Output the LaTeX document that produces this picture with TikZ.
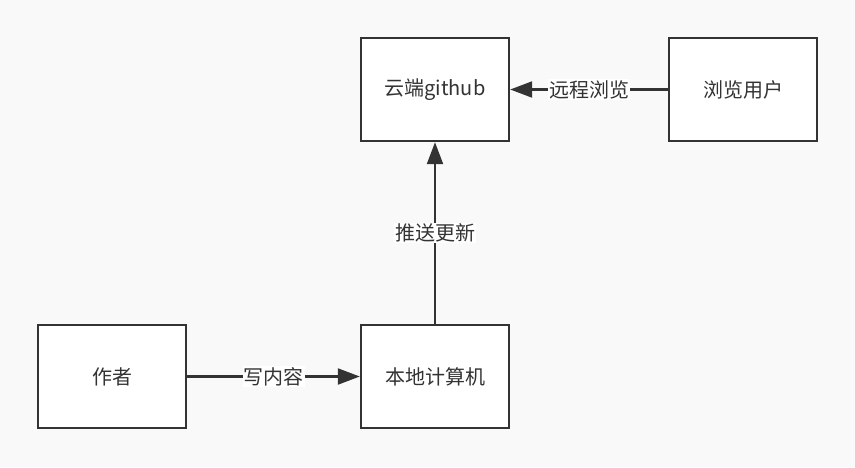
\documentclass[tikz,border=0pt]{standalone}
\usepackage{fontspec}
\setmainfont{Noto Sans CJK SC}
\usetikzlibrary{arrows.meta}
\definecolor{ink}{HTML}{333333}
\definecolor{bg}{HTML}{F9F9F9}
\tikzset{
  box/.style={draw=ink, line width=2.4pt, fill=white, minimum width=148pt, minimum height=103pt, inner sep=0pt, font=\fontsize{20}{24}\selectfont, text=ink},
  conn/.style={draw=ink, line width=2.2pt, -{Triangle[length=22pt,width=16pt]}},
  lbl/.style={fill=white, inner sep=1pt, font=\fontsize{20}{24}\selectfont, text=ink}
}
\begin{document}
\begin{tikzpicture}[x=1pt,y=-1pt]
\fill[bg] (0,0) rectangle (855,467);
\useasboundingbox (0,0) rectangle (855,467);
\node[box] (cloud) at (435,89.5) {云端github};
\node[box] (user) at (743,89.5) {浏览用户};
\node[box] (author) at (112,376.5) {作者};
\node[box] (local) at (435,376.5) {本地计算机};
\draw[conn] (author) -- node[lbl] {写内容} (local);
\draw[conn] (local) -- node[lbl] {推送更新} (cloud);
\draw[conn] (user) -- node[lbl] {远程浏览} (cloud);
\end{tikzpicture}
\end{document}
